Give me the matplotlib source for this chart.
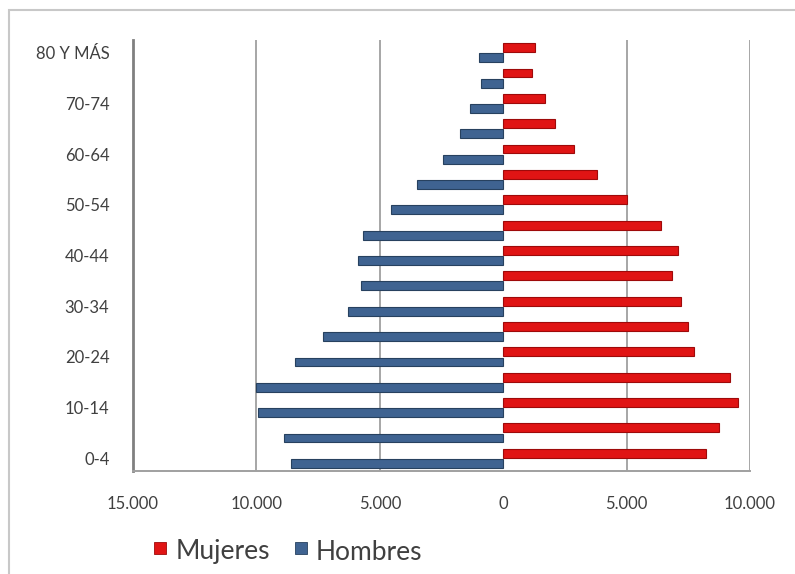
import matplotlib
matplotlib.use("Agg")
import matplotlib.pyplot as plt
from matplotlib.patches import Rectangle

plt.rcParams['font.family'] = ['Lato', 'DejaVu Sans']

age_groups = ["0-4", "5-9", "10-14", "15-19", "20-24", "25-29", "30-34", "35-39",
              "40-44", "45-49", "50-54", "55-59", "60-64", "65-69", "70-74",
              "75-79", "80 Y MÁS"]
mujeres = [8200, 8750, 9500, 9200, 7750, 7500, 7200, 6850,
           7100, 6400, 5000, 3800, 2850, 2100, 1700, 1180, 1300]
hombres = [8600, 8900, 9950, 10000, 8450, 7300, 6300, 5750,
           5900, 5700, 4550, 3500, 2450, 1750, 1350, 900, 1000]
xtick_values = [-15000, -10000, -5000, 0, 5000, 10000]
xtick_labels = ["15.000", "10.000", "5.000", "0", "5.000", "10.000"]
legend_labels = ["Mujeres", "Hombres"]

red = "#e01414"
red_edge = "#9e0a0a"
blue = "#3f6391"
blue_edge = "#27415f"
text_color = "#404040"

W, H = 795, 574
fig = plt.figure(figsize=(W / 100, H / 100), dpi=100)
fig.patch.set_facecolor("white")

# outer chart border (cropped at right/bottom)
fig.add_artist(Rectangle((9 / W, -0.05), 1.2, 1 - 10 / H + 0.05, transform=fig.transFigure,
                         fill=False, edgecolor="#c8c8c8", linewidth=1.5))

left, right = 133 / W, 750 / W
bottom, top = (H - 471) / H, (H - 40) / H
ax = fig.add_axes([left, bottom, right - left, top - bottom])

y = list(range(len(age_groups)))
h = 0.35
ax.barh([v + 0.2 for v in y], mujeres, height=h, color=red, edgecolor=red_edge,
        linewidth=0.8, zorder=3)
ax.barh([v - 0.2 for v in y], [-v for v in hombres], height=h, color=blue,
        edgecolor=blue_edge, linewidth=0.8, zorder=3)

ax.set_xlim(-15000, 10000)
ax.set_ylim(-0.5, len(age_groups) - 0.5)

for xv in [-10000, -5000, 5000, 10000]:
    ax.axvline(xv, color="#a6a6a6", linewidth=1.4, zorder=1)

ax.set_xticks(xtick_values)
ax.set_xticklabels(xtick_labels, fontsize=12, color=text_color)
ax.set_yticks(y[::2])
ax.set_yticklabels(age_groups[::2], fontsize=12, color=text_color)
ax.tick_params(axis="x", length=0, pad=18)
ax.tick_params(axis="y", length=0, pad=17)
for lbl in ax.get_yticklabels():
    lbl.set_y(lbl.get_position()[1])

for s in ["top", "right"]:
    ax.spines[s].set_visible(False)
ax.spines["left"].set_color("#808080")
ax.spines["left"].set_linewidth(2.0)
ax.spines["bottom"].set_color("#a0a0a0")
ax.spines["bottom"].set_linewidth(1.4)

# legend
ly = (H - 552) / H
fig.add_artist(Rectangle((154 / W, (H - 554) / H), 12 / W, 12 / H, transform=fig.transFigure,
                         facecolor=red, edgecolor=red_edge, linewidth=0.6))
fig.text(176 / W, ly, legend_labels[0], fontsize=19, color=text_color, va="center", ha="left")
fig.add_artist(Rectangle((295 / W, (H - 554) / H), 12 / W, 12 / H, transform=fig.transFigure,
                         facecolor=blue, edgecolor=blue_edge, linewidth=0.6))
fig.text(316 / W, ly, legend_labels[1], fontsize=19, color=text_color, va="center", ha="left")

fig.savefig("out.png", dpi=100)
